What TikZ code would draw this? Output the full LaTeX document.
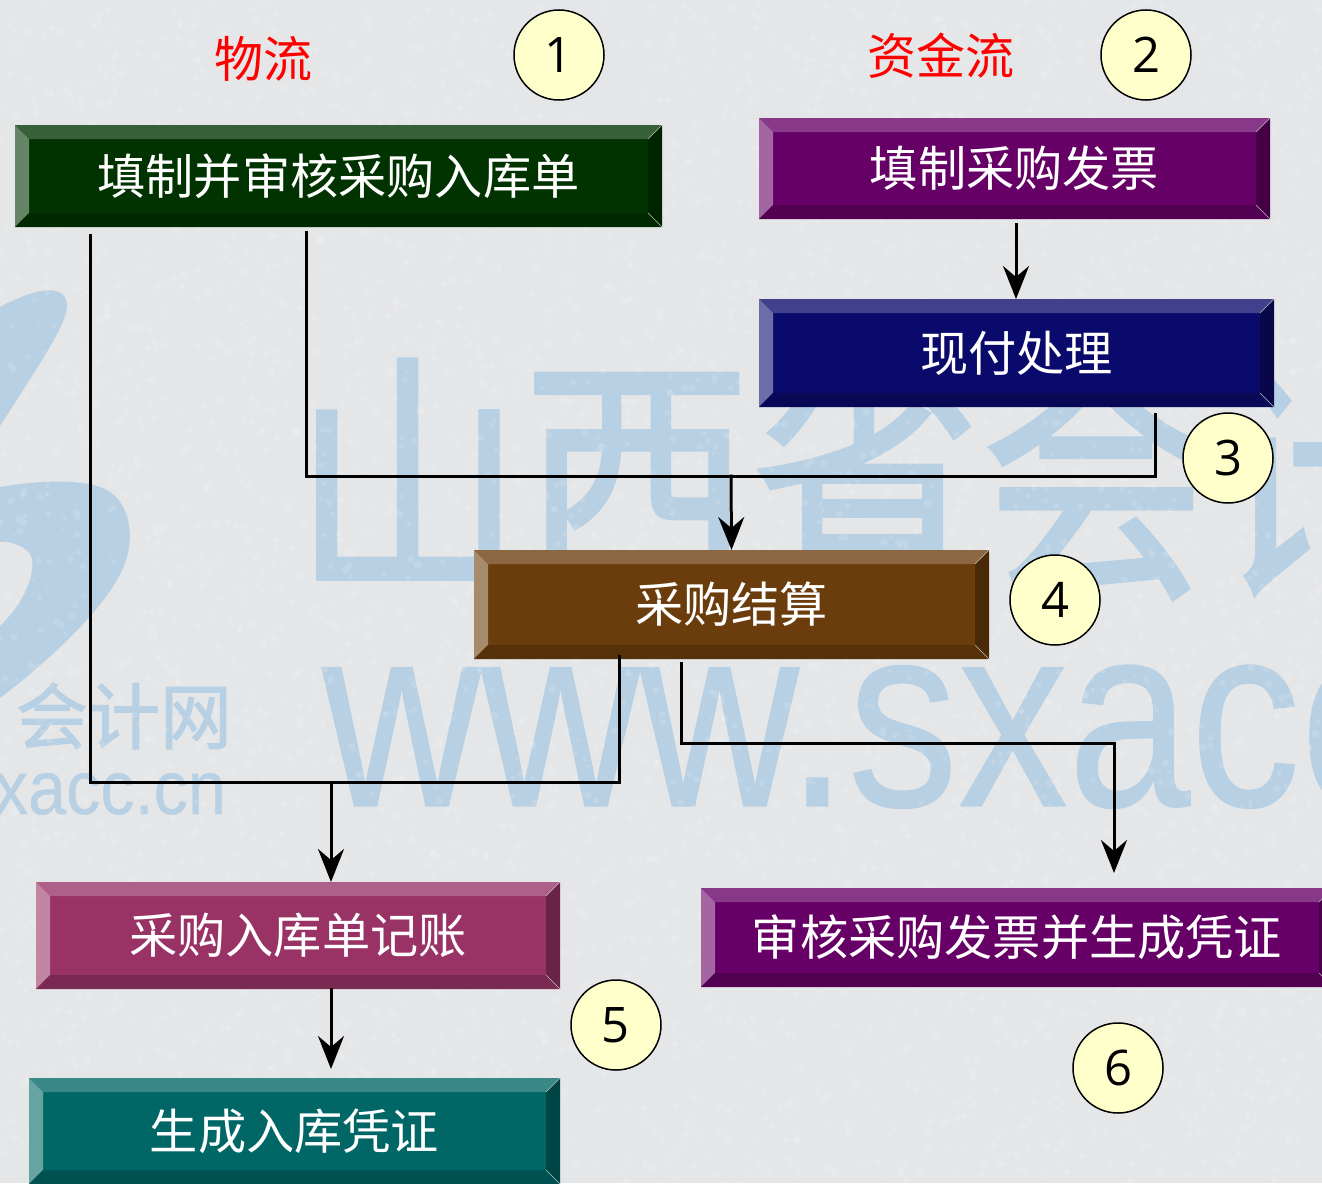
\documentclass[tikz,border=0pt]{standalone}
\usepackage{fontspec}
\setmainfont{Open Sans}
\newfontfamily\cjk{Noto Sans CJK SC}
\newfontfamily\cjkmark[FakeBold=1.6]{Noto Sans CJK SC}
\newfontfamily\wmark[FakeBold=0.5]{Liberation Sans}
\usetikzlibrary{arrows.meta,calc}

\definecolor{pagegrey}{HTML}{E5E6E8}
\definecolor{markblue}{HTML}{B8D0E3}
\definecolor{numfill}{HTML}{FFFFCC}
\definecolor{greenbox}{HTML}{003300}
\definecolor{plumbox}{HTML}{660066}
\definecolor{navybox}{HTML}{0A0A6C}
\definecolor{brownbox}{HTML}{6B3D0C}
\definecolor{rosebox}{HTML}{993366}
\definecolor{tealbox}{HTML}{006666}

\begin{document}
\begin{tikzpicture}[
    x=1pt, y=-1pt,
    bevel/.style={
        rectangle,
        inner sep=0pt,
        outer sep=0pt,
        fill=#1,
        text=white,
        font=\cjk\fontsize{48.2}{48.2}\selectfont,
        path picture={
            \fill[#1!78!white] (path picture bounding box.north west) -- (path picture bounding box.north east)
                -- ++(-14,14) -- ($(path picture bounding box.north west)+(14,14)$) -- cycle;
            \fill[#1!60!white] (path picture bounding box.north west) -- (path picture bounding box.south west)
                -- ++(14,-14) -- ($(path picture bounding box.north west)+(14,14)$) -- cycle;
            \fill[#1!80!black] (path picture bounding box.south west) -- (path picture bounding box.south east)
                -- ++(-14,-14) -- ($(path picture bounding box.south west)+(14,-14)$) -- cycle;
            \fill[#1!68!black] (path picture bounding box.north east) -- (path picture bounding box.south east)
                -- ++(-14,-14) -- ($(path picture bounding box.north east)+(-14,14)$) -- cycle;
            \draw[white!75!black, line width=0.5pt] (path picture bounding box.north east) -- ++(-14,14);
            \draw[white!75!black, line width=0.5pt] (path picture bounding box.south east) -- ++(-14,-14);
        }
    },
    numdot/.style={
        circle,
        draw=black,
        line width=1.5pt,
        fill=numfill,
        minimum size=90pt,
        inner sep=0pt,
        font=\fontsize{49}{49}\selectfont
    },
    flowlabel/.style={
        text=red,
        font=\cjk\fontsize{49}{49}\selectfont
    },
    wire/.style={
        line width=3pt,
        line cap=rect
    },
    arrow/.style={
        wire,
        -{Stealth[length=33pt,width=26pt,inset=11pt]}
    },
    marktext/.style={
        text=markblue,
        inner sep=0pt
    }
]

\clip (0,0) rectangle (1322,1183);
\fill[pagegrey] (0,0) rectangle (1322,1183);

% Watermark
\fill[markblue] (0,307) .. controls (20,296) and (50,284) .. (62,294)
    .. controls (78,308) and (55,340) .. (0,426) -- cycle;
\fill[markblue] (0,487) .. controls (40,480) and (90,478) .. (110,492)
    .. controls (135,510) and (135,550) .. (118,578)
    .. controls (100,612) and (50,660) .. (0,698)
    -- (0,626) .. controls (20,607) and (35,580) .. (32,558)
    .. controls (28,546) and (10,541) .. (0,542) -- cycle;
\node[marktext, font=\cjkmark\fontsize{240}{240}\selectfont, xscale=0.955, yscale=1.1, anchor=west] (markname) at (293,478) {山西省会计网};
\node[marktext, font=\wmark\fontsize{262}{262}\selectfont, xscale=0.84, anchor=base west] (markurl) at (322,806) {www.sxacc.cn};
\node[marktext, font=\cjkmark\fontsize{72}{72}\selectfont, anchor=center] (logoname) at (124,716) {会计网};
\node[marktext, font=\wmark\fontsize{76}{76}\selectfont, xscale=0.9, anchor=base east] (logourl) at (226,814) {www.sxacc.cn};

% Paper grain
\pgfmathsetseed{41}
\foreach \i in {1,...,5000}{
    \pgfmathsetmacro{\grainx}{rnd*1322}
    \pgfmathsetmacro{\grainy}{rnd*1183}
    \pgfmathsetmacro{\grainr}{1+rnd*3}
    \fill[white, opacity=0.12] (\grainx,\grainy) circle[radius=\grainr];
}

% Headings
\node[flowlabel] (goodslabel) at (263,59) {物流};
\node[flowlabel] (fundslabel) at (941,56) {资金流};

% Boxes
\node[bevel=greenbox, minimum width=647pt, minimum height=102pt] (fillin) at (338.5,176) {填制并审核采购入库单};
\node[bevel=plumbox, minimum width=511pt, minimum height=101pt] (fillbill) at (1014.5,168.5) {填制采购发票};
\node[bevel=navybox, minimum width=515pt, minimum height=108pt] (cashpay) at (1016.5,353) {现付处理};
\node[bevel=brownbox, minimum width=515pt, minimum height=109pt] (settle) at (731.5,604.5) {采购结算};
\node[bevel=rosebox, minimum width=524pt, minimum height=107pt] (inpost) at (298,935.5) {采购入库单记账};
\node[bevel=plumbox, minimum width=632pt, minimum height=99pt] (billpost) at (1017,937.5) {审核采购发票并生成凭证};
\node[bevel=tealbox, minimum width=531pt, minimum height=106pt] (involcher) at (294.5,1131) {生成入库凭证};

% Numbers
\node[numdot] (num1) at (559,55) {1};
\node[numdot] (num2) at (1146,55) {2};
\node[numdot] (num3) at (1228,458) {3};
\node[numdot] (num4) at (1055,600) {4};
\node[numdot] (num5) at (616,1025) {5};
\node[numdot] (num6) at (1118,1068) {6};

% Joins
\coordinate (joinpay) at (731,476);
\coordinate (joinpost) at (331,782);
\coordinate (joinbill) at (1114,743);

% Arrows
\draw[arrow] ([xshift=1.5pt,yshift=-5pt]fillbill.south) -- ([xshift=-0.5pt]cashpay.north);
\draw[wire] ([xshift=-32.5pt,yshift=-5pt]fillin.south) |- (joinpay) -| ([xshift=138.5pt,yshift=-7pt]cashpay.south);
\draw[arrow] (joinpay) -- (settle.north);
\draw[wire] ([xshift=-248.5pt,yshift=-8pt]fillin.south) |- (joinpost) -| ([xshift=-112.5pt,yshift=3pt]settle.south);
\draw[arrow] (joinpost) -- ([xshift=33pt]inpost.north);
\draw[wire] ([xshift=-50.5pt,yshift=-4pt]settle.south) |- (joinbill);
\draw[arrow] (joinbill) -- ([xshift=97pt,yshift=15pt]billpost.north);
\draw[arrow] ([xshift=33pt]inpost.south) -- ([xshift=36.5pt,yshift=9pt]involcher.north);

\end{tikzpicture}
\end{document}
